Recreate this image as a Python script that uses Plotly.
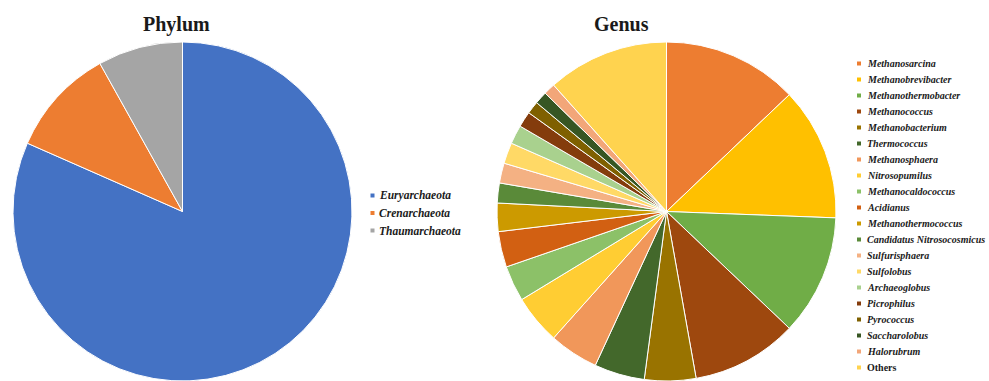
import plotly.graph_objects as go

# Phylum composition (%)
phylum_names = ["Euryarchaeota", "Crenarchaeota", "Thaumarchaeota"]
phylum_values = [81.6, 10.3, 8.1]
phylum_colors = ["#4472C4", "#ED7D31", "#A5A5A5"]

# Genus composition (%)
genus_names = [
    "Methanosarcina", "Methanobrevibacter", "Methanothermobacter", "Methanococcus",
    "Methanobacterium", "Thermococcus", "Methanosphaera", "Nitrosopumilus",
    "Methanocaldococcus", "Acidianus", "Methanothermococcus",
    "Candidatus Nitrosocosmicus", "Sulfurisphaera", "Sulfolobus", "Archaeoglobus",
    "Picrophilus", "Pyrococcus", "Saccharolobus", "Halorubrum", "Others",
]
genus_values = [
    12.9, 12.7, 11.5, 10.1,
    4.9, 4.8, 4.7, 4.7,
    3.4, 3.4, 2.7,
    1.9, 1.9, 2.0, 1.8,
    1.5, 1.2, 1.2, 1.1, 11.6,
]
genus_colors = [
    "#ED7D31", "#FFC000", "#70AD47", "#9E480E",
    "#997300", "#43682B", "#F1975A", "#FFCD33",
    "#8CC168", "#D26012", "#CC9A00",
    "#5A8A39", "#F4B183", "#FFD966", "#A9D18E",
    "#843C0C", "#7F6000", "#375623", "#F2A679", "#FFD34F",
]

W, H = 989, 381


def px(x):
    return x / W


def py(y):
    return 1 - y / H


fig = go.Figure()

fig.add_trace(go.Pie(
    labels=phylum_names, values=phylum_values,
    marker=dict(colors=phylum_colors, line=dict(color="white", width=1)),
    sort=False, direction="clockwise", rotation=0,
    textinfo="none", hoverinfo="label+percent", showlegend=False,
    domain=dict(x=[px(12), px(353)], y=[0, py(42)]),
))

fig.add_trace(go.Pie(
    labels=genus_names, values=genus_values,
    marker=dict(colors=genus_colors, line=dict(color="white", width=1)),
    sort=False, direction="clockwise", rotation=0,
    textinfo="none", hoverinfo="label+percent", showlegend=False,
    domain=dict(x=[px(497), px(836)], y=[0, py(42)]),
))

annotations = []
shapes = []

serif = "Liberation Serif"
text_color = "#1a1a1a"

# Chart titles
for label, cx in [("Phylum", 176.5), ("Genus", 621)]:
    annotations.append(dict(
        text=label, x=px(cx), y=py(24), xref="paper", yref="paper",
        xanchor="center", yanchor="middle", showarrow=False,
        font=dict(family=serif, size=20, color=text_color, weight="bold"),
    ))


def add_legend(names, colors, x_marker, x_text, y0, step, size):
    for i, (name, col) in enumerate(zip(names, colors)):
        yc = y0 + i * step
        shapes.append(dict(
            type="rect", xref="paper", yref="paper",
            x0=px(x_marker - 2), x1=px(x_marker + 2),
            y0=py(yc + 2), y1=py(yc - 2),
            fillcolor=col, line=dict(width=0),
        ))
        annotations.append(dict(
            text=name, x=px(x_text), y=py(yc), xref="paper", yref="paper",
            xanchor="left", yanchor="middle", showarrow=False,
            font=dict(family=serif, size=size, color=text_color, weight="bold",
                      style="normal" if name == "Others" else "italic"),
        ))


add_legend(phylum_names, phylum_colors, 372.5, 377, 195.5, 17.5, 11.5)
add_legend(genus_names, genus_colors, 859, 865, 63.5, 16.0, 10)

fig.update_layout(
    width=W, height=H, autosize=False,
    margin=dict(l=0, r=0, t=0, b=0),
    paper_bgcolor="white", plot_bgcolor="white",
    annotations=annotations, shapes=shapes,
)

fig.write_html("out.html")
